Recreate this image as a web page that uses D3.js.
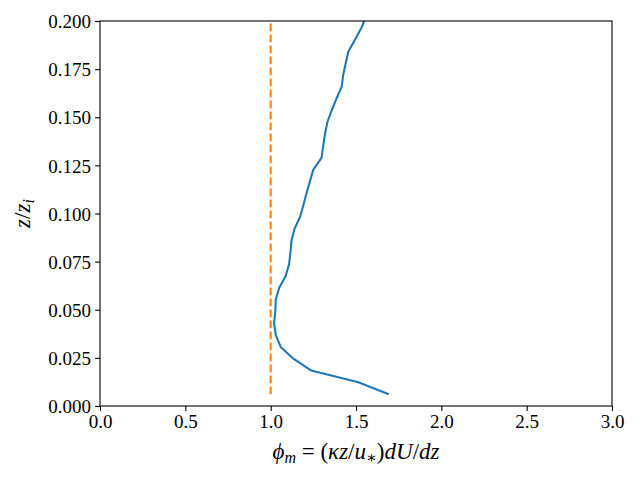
<!DOCTYPE html>
<html>
<head>
<meta charset="utf-8">
<script src="https://cdn.jsdelivr.net/npm/d3@7"></script>
<style>
  body { margin: 0; background: #fff; }
  svg { display: block; }
  .tick text { font-family: "Liberation Serif", "DejaVu Serif", serif; font-size: 19px; fill: #000; }
  .lab { font-family: "Liberation Serif", "DejaVu Serif", serif; font-size: 23px; fill: #000; }
</style>
</head>
<body>
<script>

// profile: phi_m at each grid level z/zi
const zLevels = [0.0061, 0.0123, 0.0184, 0.0246, 0.0307, 0.0368, 0.0430, 0.0491, 0.0553, 0.0614,
   0.0675, 0.0737, 0.0798, 0.0860, 0.0921, 0.0982, 0.1044, 0.1105, 0.1167, 0.1228,
   0.1289, 0.1351, 0.1412, 0.1474, 0.1535, 0.1596, 0.1658, 0.1719, 0.1781, 0.1842,
   0.1903, 0.1965, 0.2026];
const phiM = [1.692, 1.514, 1.238, 1.133, 1.059, 1.030, 1.020, 1.027, 1.030, 1.050,
   1.088, 1.108, 1.116, 1.122, 1.140, 1.172, 1.192, 1.210, 1.230, 1.250,
   1.298, 1.308, 1.318, 1.332, 1.357, 1.385, 1.416, 1.425, 1.440, 1.455,
   1.494, 1.532, 1.560];
// reference line phi_m = 1
const refPhi = [1, 1];
const refZ = [0.0061, 0.2026];

const xTicks = [0, 0.5, 1.0, 1.5, 2.0, 2.5, 3.0];
const yTicks = [0, 0.025, 0.05, 0.075, 0.1, 0.125, 0.15, 0.175, 0.2];

const width = 640, height = 480;
const margin = {top: 21, right: 28, bottom: 74, left: 100};

const svg = d3.select("body").append("svg")
   .attr("width", width)
   .attr("height", height);

const x = d3.scaleLinear().domain([0, 3]).range([margin.left, width - margin.right]);
const y = d3.scaleLinear().domain([0, 0.2]).range([height - margin.bottom, margin.top]);

svg.append("clipPath").attr("id", "clip")
   .append("rect")
   .attr("x", margin.left).attr("y", margin.top)
   .attr("width", width - margin.left - margin.right)
   .attr("height", height - margin.top - margin.bottom);

const line = d3.line().x(d => x(d[0])).y(d => y(d[1]));

// the profile
svg.append("path")
   .datum(d3.zip(phiM, zLevels))
   .attr("clip-path", "url(#clip)")
   .attr("d", line)
   .attr("fill", "none")
   .attr("stroke", "#1f77b4")
   .attr("stroke-width", 2.08)
   .attr("stroke-linejoin", "round");

// phi_m = 1
svg.append("path")
   .datum(d3.zip(refPhi, refZ))
   .attr("clip-path", "url(#clip)")
   .attr("d", line)
   .attr("fill", "none")
   .attr("stroke", "#ff7f0e")
   .attr("stroke-width", 2.08)
   .attr("stroke-dasharray", "7.7,3.3");

// axes
const xAxis = svg.append("g")
   .attr("transform", "translate(0," + (height - margin.bottom) + ")")
   .call(d3.axisBottom(x).tickValues(xTicks).tickFormat(d3.format(".1f")).tickSizeOuter(0).tickSize(4.9).tickPadding(4));
const yAxis = svg.append("g")
   .attr("transform", "translate(" + margin.left + ",0)")
   .call(d3.axisLeft(y).tickValues(yTicks).tickFormat(d3.format(".3f")).tickSizeOuter(0).tickSize(4.9).tickPadding(4));

svg.selectAll(".domain").remove();
svg.selectAll(".tick line").attr("stroke", "#000").attr("stroke-width", 1.1);
yAxis.selectAll(".tick text").attr("dy", "0.35em");

// frame
svg.append("rect")
   .attr("x", margin.left).attr("y", margin.top)
   .attr("width", width - margin.left - margin.right)
   .attr("height", height - margin.top - margin.bottom)
   .attr("fill", "none")
   .attr("stroke", "#000")
   .attr("stroke-width", 1.1);

// x label
const xl = svg.append("text").attr("class", "lab")
   .attr("x", (margin.left + width - margin.right) / 2)
   .attr("y", 459)
   .attr("text-anchor", "middle");
xl.append("tspan").attr("font-style", "italic").text("ϕ");
xl.append("tspan").attr("font-style", "italic").attr("font-size", 16).attr("dy", 4).text("m");
xl.append("tspan").attr("dy", -4).text(" = (");
xl.append("tspan").attr("font-style", "italic").text("κz");
xl.append("tspan").text("/");
xl.append("tspan").attr("font-style", "italic").text("u");
xl.append("tspan").attr("font-size", 16).attr("dy", 4).text("∗");
xl.append("tspan").attr("dy", -4).text(")");
xl.append("tspan").attr("font-style", "italic").text("dU");
xl.append("tspan").text("/");
xl.append("tspan").attr("font-style", "italic").text("dz");

// y label
const yl = svg.append("text").attr("class", "lab")
   .attr("transform", "translate(30," + ((margin.top + height - margin.bottom) / 2) + ") rotate(-90)")
   .attr("text-anchor", "middle");
yl.append("tspan").attr("font-style", "italic").text("z");
yl.append("tspan").text("/");
yl.append("tspan").attr("font-style", "italic").text("z");
yl.append("tspan").attr("font-style", "italic").attr("font-size", 16).attr("dy", 4).text("i");

</script>
</body>
</html>
